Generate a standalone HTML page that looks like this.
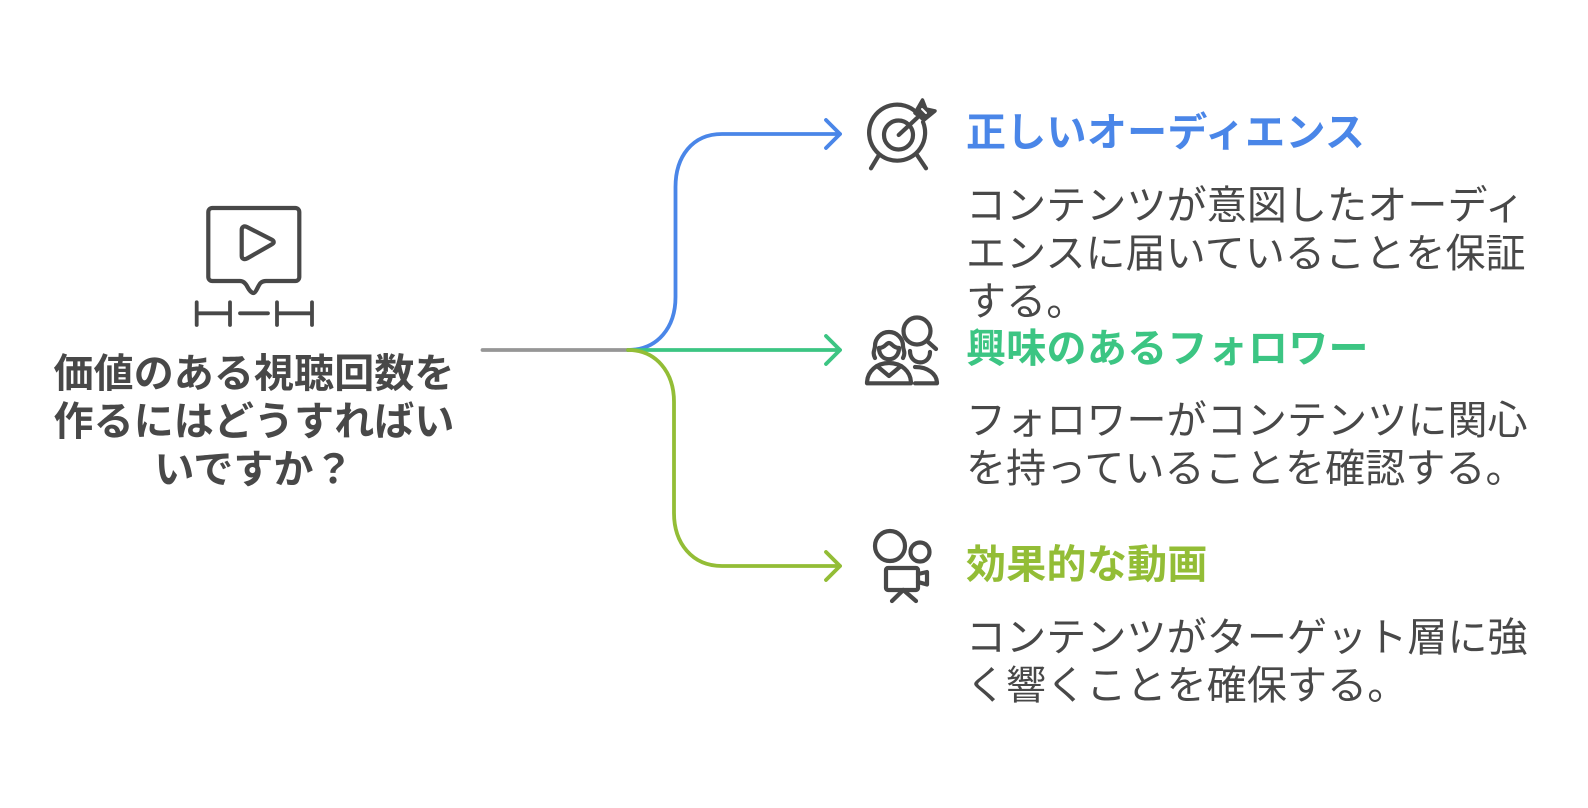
<!DOCTYPE html>
<html><head><meta charset="utf-8">
<style>
html,body{margin:0;padding:0;background:#fff}
#c{position:relative;width:1588px;height:808px;overflow:hidden;background:#fff;font-family:"Liberation Sans","Noto Sans CJK JP",sans-serif;color:#484848}
#c svg{position:absolute;left:0;top:0}
.t{position:absolute;white-space:nowrap;font-size:40px;line-height:48px;height:48px;letter-spacing:.12px}
.b{font-weight:700;letter-spacing:.28px}
.l{left:0;width:508px;text-align:center;font-weight:700;letter-spacing:.1px}
</style></head><body><div id="c">
<svg width="1588" height="808" viewBox="0 0 1588 808" fill="none" stroke-linecap="round" stroke-linejoin="round">
<g stroke-width="3.800">
<path d="M482.500 350H628" stroke="#969696"/>
<path d="M628 350C658 350 675.500 327 675.500 297V187C675.500 157 692 134 722 134H840" stroke="#4a86e8"/>
<path d="M826 120L840 134L826 148" stroke="#4a86e8"/>
<path d="M628 350H840" stroke="#3cc583"/>
<path d="M826 336L840 350L826 364" stroke="#3cc583"/>
<path d="M628 350C656 350 674 372 674 402V513C674 543 692 566 722 566H840" stroke="#93bd36"/>
<path d="M826 552L840 566L826 580" stroke="#93bd36"/>
</g>
<g stroke="#484848" stroke-width="4.200">
<g transform="translate(2 0)">
<path d="M914 112A28 28 0 1 0 921 122"/>
<circle cx="896.500" cy="135" r="14.500"/>
<path d="M896.700 135L915 118"/>
</g>
<path d="M879 155L871 168.300M917 155L926 168.300"/>
<path d="M915 113L922.500 100L926 109L935 111L924 120Z" fill="#484848" stroke-width="3.500"/>
<path d="M922 109L926 113" stroke="#fff" stroke-width="2"/>
<circle cx="917" cy="331" r="13.500"/>
<path d="M927 341L936 349"/>
<path d="M910 351C910 366 930 366 930 352"/>
<path d="M915 367C928 367 937 374 937 383.300H915"/>
<path d="M875 358C872 352 875 350 875 346A14 14 0 0 1 903 346C903 350 906 352 903 358"/>
<path d="M879 348C885 348 886 343 889 343C892 343 893 348 899 348"/>
<path d="M879 348C879 363 899 363 899 348"/>
<path d="M867 383.300C867 371 877 363 889 363C901 363 911 371 911 383.300Z"/>
<path d="M877 366L889 376L901 366"/>
<circle cx="890" cy="546" r="15"/>
<circle cx="920" cy="552" r="9.500"/>
<rect x="886" y="568" width="32" height="22" rx="2"/>
<path d="M918 574L927 572V584.500L918 582"/>
<path d="M892 601L903.300 590L916 601"/>
<path d="M212.300 208H295.300A4 4 0 0 1 299.300 212V277A4 4 0 0 1 295.300 281H266C261 281 259.500 284 258 287C256.500 290 255 293 253.500 293C251.500 293 249 290 247.500 287C246 284 244 281 240 281H212.300A4 4 0 0 1 208.300 277V212A4 4 0 0 1 212.300 208Z"/>
<path d="M241.700 230C241.700 227 244 225.500 247 227L271.500 239.500C274.500 241 274.500 243 271.500 244.500L247 258.500C244 260 241.700 258.500 241.700 256Z"/>
<path d="M196.700 302.300V325M196.700 313.300H230M230 302.300V325M240 313.300H268M277 302.300V325M277 313.300H312M312 302.300V325" stroke-width="3.800"/>
</g>
</svg>
<div class="t l" style="top:350px">価値のある視聴回数を</div>
<div class="t l" style="top:398px">作るにはどうすればい</div>
<div class="t l" style="top:446px">いですか？</div>
<div class="t b" style="left:966px;top:109px;color:#4a86e8">正しいオーディエンス</div>
<div class="t" style="left:966px;top:182px">コンテンツが意図したオーディ</div>
<div class="t" style="left:966px;top:230px">エンスに届いていることを保証</div>
<div class="t" style="left:966px;top:278px">する。</div>
<div class="t b" style="left:966px;top:325px;color:#3cc583">興味のあるフォロワー</div>
<div class="t" style="left:966px;top:397px">フォロワーがコンテンツに関心</div>
<div class="t" style="left:966px;top:445px">を持っていることを確認する。</div>
<div class="t b" style="left:966px;top:541px;color:#93bd36">効果的な動画</div>
<div class="t" style="left:966px;top:614px">コンテンツがターゲット層に強</div>
<div class="t" style="left:966px;top:662px">く響くことを確保する。</div>
</div></body></html>
